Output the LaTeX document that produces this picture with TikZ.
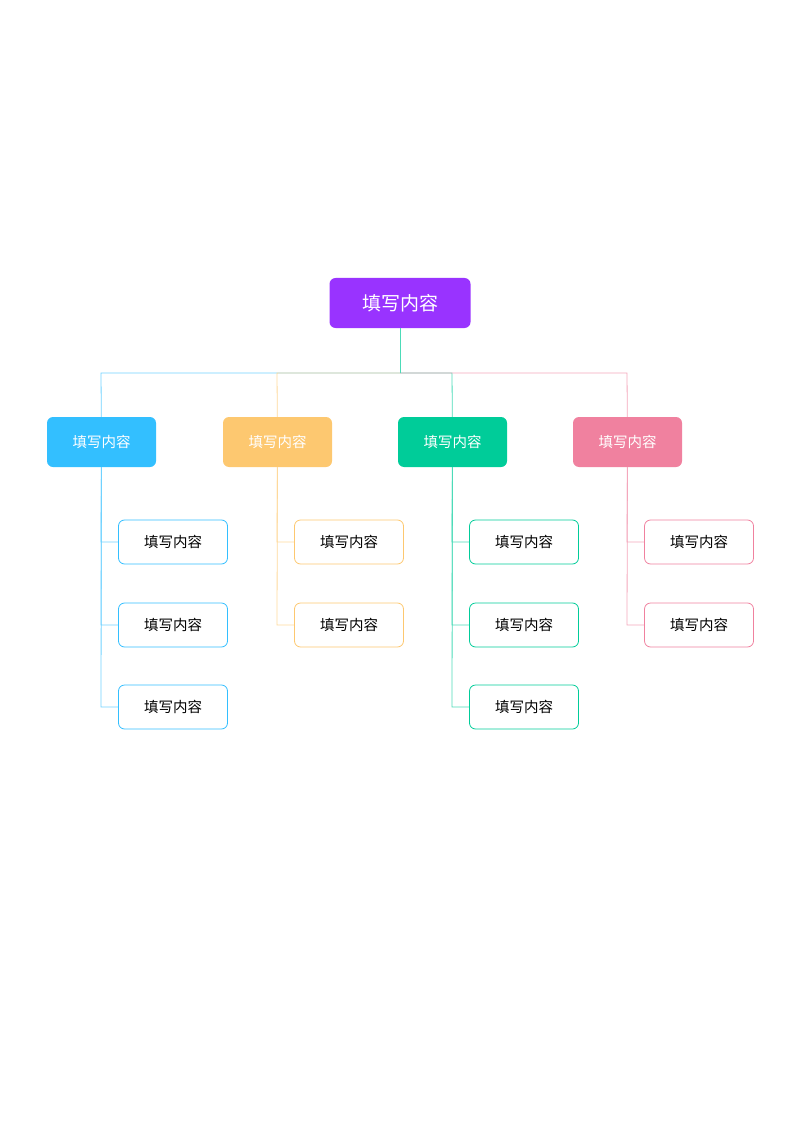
\documentclass[tikz,border=0pt]{standalone}
\usepackage{fontspec}
\setmainfont{Noto Sans CJK SC}
\definecolor{rootc}{HTML}{9933FF}
\definecolor{bluec}{HTML}{33BFFF}
\definecolor{yellowc}{HTML}{FDC870}
\definecolor{greenc}{HTML}{00CC99}
\definecolor{pinkc}{HTML}{F0819F}

\begin{document}
\begin{tikzpicture}[x=1pt,y=-1pt,
        root/.style=
            {
                rectangle,
                fill = rootc,
                text = white,
                minimum width = 141pt,
                minimum height = 50pt,
                font = \fontsize{19}{22}\selectfont,
                rounded corners = 6pt
            },
        branch/.style=
            {
                rectangle,
                fill = #1,
                text = white,
                minimum width = 109pt,
                minimum height = 50pt,
                font = \fontsize{14.5}{17}\selectfont,
                rounded corners = 6pt
            },
        leaf/.style=
            {
                rectangle,
                draw = #1,
                thick,
                fill = white,
                minimum width = 109pt,
                minimum height = 44pt,
                font = \fontsize{14.5}{17}\selectfont,
                rounded corners = 6pt
            },
        link/.style = {draw = #1!70, line width = 0.8pt}
    ]
    \useasboundingbox (0,0) rectangle (800,1131);

    \node[root] (R) at (400,303) {填写内容};
    \coordinate (J) at (400,373);

    \foreach \n/\x/\c/\k in {A/101/bluec/3, B/277/yellowc/2, C/452/greenc/3, D/627/pinkc/2}
    {
        \node[branch=\c] (\n) at (\x+0.5,442) {填写内容};
        \coordinate (\n J) at (\x,373);
        \draw[link=\c] (J) -- (\n J) -- (\n);
        \foreach \i/\y in {1/542, 2/625, 3/707}
        {
            \ifnum\i>\k\else
                \node[leaf=\c] (\n\i) at (\x+72,\y) {填写内容};
                \coordinate (\n T\i) at (\x,\y);
                \draw[link=\c] (\n) -- (\n T\i) -- (\n\i);
            \fi
        }
    }
    \draw[link=greenc] (R) -- (J);

\end{tikzpicture}
\end{document}
